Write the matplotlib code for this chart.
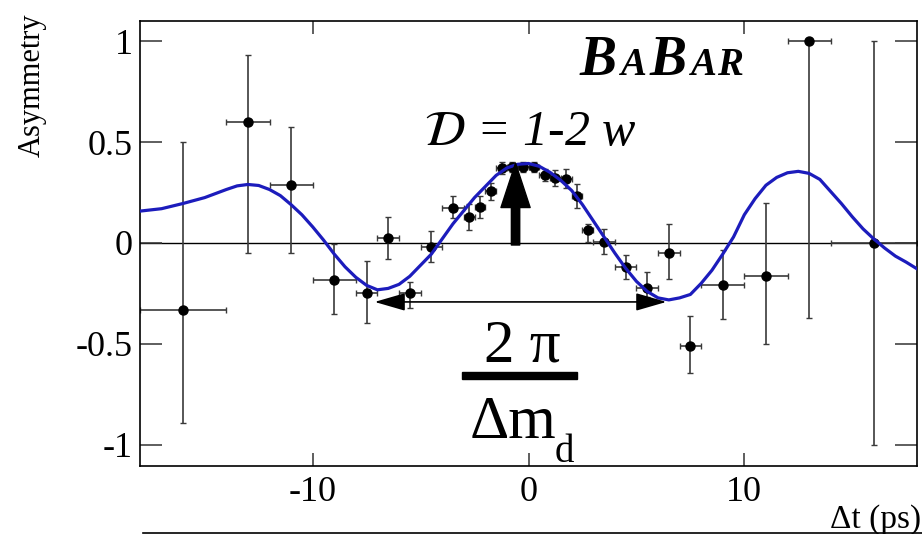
import matplotlib
matplotlib.use('Agg')
import matplotlib.pyplot as plt
from matplotlib.lines import Line2D
from matplotlib.patches import Rectangle

plt.rcParams['mathtext.fontset'] = 'stix'
plt.rcParams['axes.unicode_minus'] = False
serif = 'Liberation Serif'

# data
dt = [-16, -13, -11, -9, -7.5, -6.5, -5.5, -4.5, -3.5,
      -2.75, -2.25, -1.75, -1.25, -0.75, -0.25, 0.25, 0.75, 1.25, 1.75, 2.25, 2.75,
      3.5, 4.5, 5.5, 6.5, 7.5, 9, 11, 13, 16]
asym = [-0.33, 0.60, 0.285, -0.183, -0.246, 0.023, -0.246, -0.018, 0.172,
        0.13, 0.177, 0.259, 0.37, 0.378, 0.378, 0.378, 0.337, 0.32, 0.317, 0.233, 0.064,
        0.006, -0.118, -0.225, -0.048, -0.51, -0.21, -0.165, 1.0, 0.0]
err_lo = [0.56, 0.65, 0.335, 0.17, 0.15, 0.10, 0.075, 0.075, 0.05,
          0.065, 0.055, 0.045, 0.03, 0.025, 0.025, 0.025, 0.03, 0.04, 0.045, 0.06, 0.06,
          0.06, 0.06, 0.045, 0.13, 0.135, 0.165, 0.335, 1.37, 1.0]
err_hi = [0.83, 0.33, 0.29, 0.18, 0.155, 0.105, 0.055, 0.075, 0.06,
          0.065, 0.055, 0.04, 0.03, 0.025, 0.025, 0.025, 0.03, 0.04, 0.05, 0.06, 0.03,
          0.065, 0.06, 0.08, 0.14, 0.15, 0.175, 0.365, 0.0, 1.0]
bin_half = [2, 1, 1, 1, 0.5, 0.5, 0.5, 0.5, 0.5,
            0.25, 0.25, 0.25, 0.25, 0.25, 0.25, 0.25, 0.25, 0.25, 0.25, 0.25, 0.25,
            0.5, 0.5, 0.5, 0.5, 0.5, 1, 1, 1, 2]

# fitted curve, read at points along the line
fit_t = [-18, -17, -16, -15, -14.5, -14, -13.5, -13, -12.5, -12, -11.5, -11, -10.5, -10,
         -9.5, -9, -8.5, -8, -7.5, -7, -6.5, -6, -5.5, -5, -4.5, -4, -3.5, -3, -2.5, -2,
         -1.5, -1, -0.5, 0, 0.5, 1, 1.5, 2, 2.5, 3, 3.5, 4, 4.5, 5, 5.5, 6, 6.5, 7,
         7.5, 8, 8.5, 9, 9.5, 10, 10.5, 11, 11.5, 12, 12.5, 13, 13.5, 14, 14.5, 15,
         15.5, 16, 16.5, 17, 17.5, 18]
fit_a = [0.158, 0.17, 0.196, 0.225, 0.245, 0.265, 0.283, 0.29, 0.285, 0.265, 0.235, 0.19,
         0.14, 0.08, 0.015, -0.055, -0.118, -0.17, -0.21, -0.232, -0.225, -0.205, -0.165,
         -0.11, -0.055, 0.02, 0.095, 0.16, 0.225, 0.28, 0.335, 0.372, 0.39, 0.394,
         0.38, 0.35, 0.31, 0.26, 0.19, 0.11, 0.03, -0.05, -0.125, -0.19, -0.24, -0.272,
         -0.282, -0.272, -0.255, -0.2, -0.135, -0.055, 0.03, 0.14, 0.22, 0.286, 0.325,
         0.348, 0.355, 0.345, 0.315, 0.255, 0.195, 0.13, 0.07, 0.02, -0.025, -0.065,
         -0.095, -0.128]

x_ticks = [-10, 0, 10]
y_ticks = [-1, -0.5, 0, 0.5, 1]
y_tick_labels = ['-1', '-0.5', '0', '0.5', '1']

fig = plt.figure(figsize=(9.22, 5.34), dpi=100)
ax = fig.add_axes([140 / 922, 68 / 534, 777 / 922, 445 / 534])

ax.axhline(0, color='black', lw=1.0, zorder=1)
ax.errorbar(dt, asym, yerr=[err_lo, err_hi], xerr=bin_half, fmt='o', color='black',
            ecolor='#3a3a3a', elinewidth=1.2, capsize=2.5, capthick=1.0, ms=6.5, zorder=2)
ax.plot(fit_t, fit_a, color='#1c1cbc', lw=2.3, zorder=3)

ax.set_xlim(-18, 18)
ax.set_ylim(-1.105, 1.1)
ax.set_xticks(x_ticks)
ax.set_xticklabels([str(v) for v in x_ticks])
ax.set_yticks(y_ticks)
ax.set_yticklabels(y_tick_labels)
ax.tick_params(direction='in', top=True, right=True, width=1.1, color='#333333',
               labelsize=26, labelfontfamily=serif)
ax.tick_params(axis='x', length=9.5, pad=7)
ax.tick_params(axis='y', length=16, pad=5)
for s in ax.spines.values():
    s.set_linewidth(1.2)

# amplitude arrow and period arrow
ax.annotate('', xy=(-0.6, 0.396), xytext=(-0.6, -0.01),
            arrowprops=dict(arrowstyle='simple,head_length=32,head_width=21,tail_width=6',
                            mutation_scale=1, color='black', shrinkA=0, shrinkB=0))
ax.annotate('', xy=(6.39, -0.292), xytext=(-7.13, -0.292),
            arrowprops=dict(arrowstyle='<|-|>,head_length=19,head_width=5.5',
                            mutation_scale=1, color='black', lw=1.2, shrinkA=0, shrinkB=0))

# texts
fig.text(530 / 922, 1 - 145 / 534, r'$\mathcal{D}$ = 1-2 w', fontsize=36, family=serif,
         style='italic', ha='center', va='baseline')
fig.text(522 / 922, 1 - 362 / 534, '2 π', fontsize=44, family=serif, ha='center', va='baseline')
fig.add_artist(Rectangle((462 / 922, 1 - 379 / 534), 115 / 922, 7 / 534,
                         transform=fig.transFigure, color='black'))
fig.text(470 / 922, 1 - 438 / 534, 'Δm', fontsize=44, family=serif, ha='left', va='baseline')
fig.text(555 / 922, 1 - 462 / 534, 'd', fontsize=28, family=serif, ha='left', va='baseline')

# BaBar logo, big and small capitals
for txt, left, size in [('B', 580, 40), ('A', 620, 28), ('B', 650, 40), ('A', 690, 28), ('R', 717, 28)]:
    fig.text(left / 922, 1 - 75 / 534, txt, fontsize=size, family=serif, weight='bold',
             style='italic', ha='left', va='baseline')

fig.text(32 / 922, 1 - 85 / 534, 'Asymmetry', rotation=90, fontsize=22, family=serif,
         ha='center', va='center')
fig.text(921 / 922, 1 - 528 / 534, 'Δt (ps)', fontsize=24, family=serif, ha='right', va='baseline')
fig.add_artist(Line2D([143 / 922, 1], [1 - 532.5 / 534] * 2, transform=fig.transFigure,
                      color='black', lw=1.2))

plt.savefig('out.png', dpi=100)
